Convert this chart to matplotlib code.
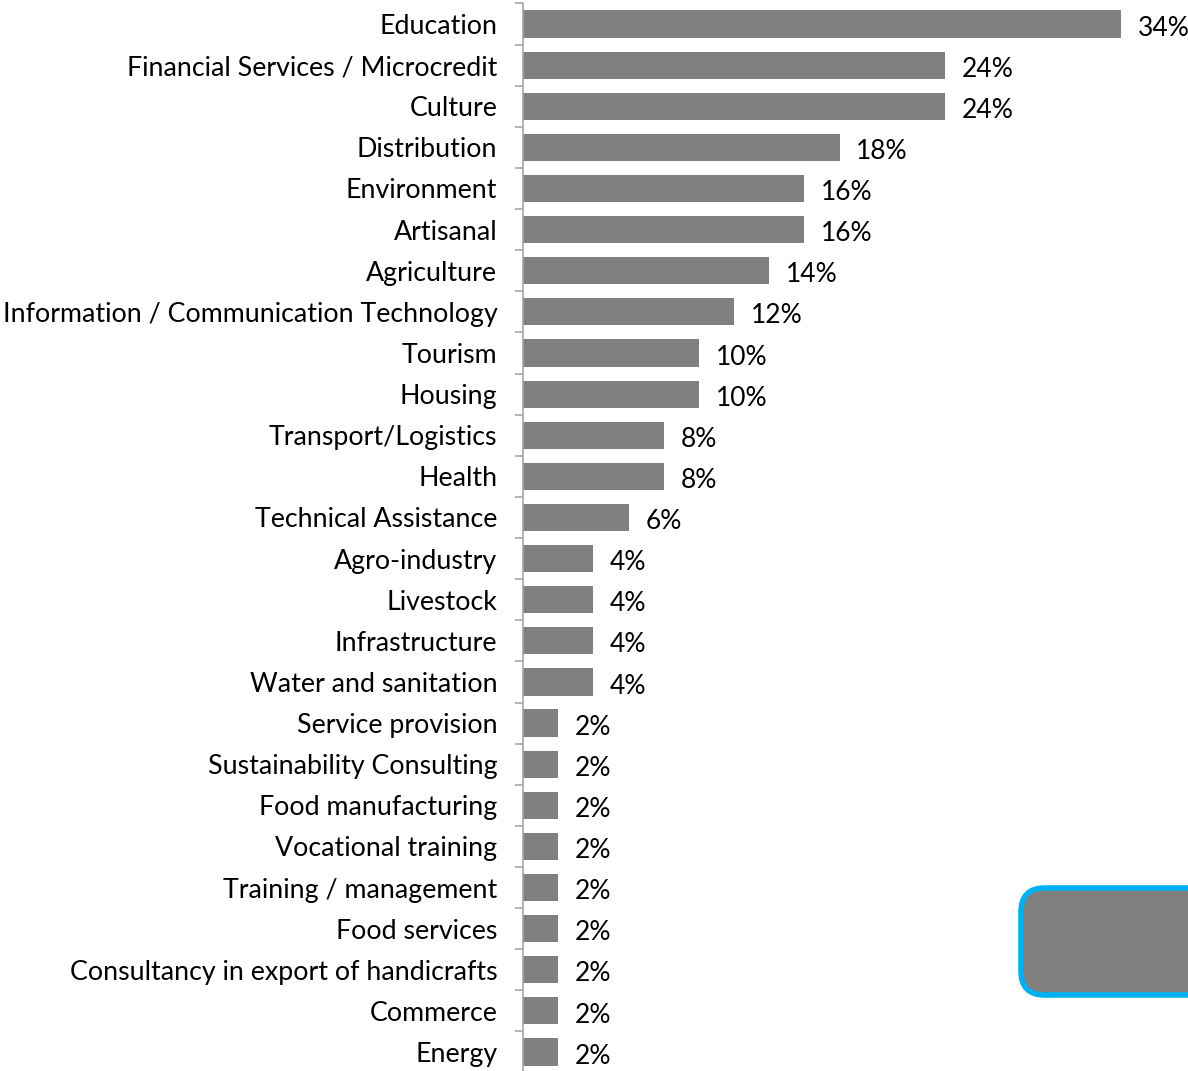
import matplotlib.pyplot as plt
from matplotlib.patches import FancyBboxPatch
import numpy as np

sectors = [
    'Education', 'Financial Services / Microcredit', 'Culture', 'Distribution',
    'Environment', 'Artisanal', 'Agriculture',
    'Information / Communication Technology', 'Tourism', 'Housing',
    'Transport/Logistics', 'Health', 'Technical Assistance', 'Agro-industry',
    'Livestock', 'Infrastructure', 'Water and sanitation', 'Service provision',
    'Sustainability Consulting', 'Food manufacturing', 'Vocational training',
    'Training / management', 'Food services',
    'Consultancy in export of handicrafts', 'Commerce', 'Energy',
]
shares = [34, 24, 24, 18, 16, 16, 14, 12, 10, 10, 8, 8, 6, 4, 4, 4, 4,
          2, 2, 2, 2, 2, 2, 2, 2, 2]

plt.rcParams['font.family'] = ['Lato', 'DejaVu Sans']

fig = plt.figure(figsize=(11.88, 10.71), dpi=100)
ax = fig.add_axes([0.4402, -0.0015, 0.5598, 0.9983])

ypos = np.arange(len(sectors))
ax.barh(ypos, shares, height=0.66, color='#808080')
for y, v in zip(ypos, shares):
    ax.text(v + 0.95, y + 0.1, f'{v}%', va='center', ha='left', fontsize=19)

ax.set_ylim(len(sectors) - 0.5, -0.5)
ax.set_xlim(0, 37.8)
ax.set_yticks(ypos)
ax.set_yticklabels(sectors, fontsize=19.3)
for lbl in ax.get_yticklabels():
    lbl.set_va('center_baseline')
ax.set_yticks(np.arange(len(sectors) + 1) - 0.5, minor=True)
ax.tick_params(axis='y', which='major', length=0, pad=18.5)
ax.tick_params(axis='y', which='minor', length=6, color='#a6a6a6', width=1.2)
ax.set_xticks([])
for side in ['top', 'right', 'bottom']:
    ax.spines[side].set_visible(False)
ax.spines['left'].set_color('#a6a6a6')
ax.spines['left'].set_linewidth(1.2)

# empty callout box in the lower right corner
box = FancyBboxPatch((1021 / 1188, 1 - 995 / 1071), 220 / 1188, 107 / 1071,
                     boxstyle='round,pad=0,rounding_size=0.02',
                     transform=fig.transFigure, facecolor='#808080',
                     edgecolor='#00b0f0', linewidth=4, mutation_aspect=1188 / 1071)
fig.patches.append(box)

fig.savefig('out.png', dpi=100)
